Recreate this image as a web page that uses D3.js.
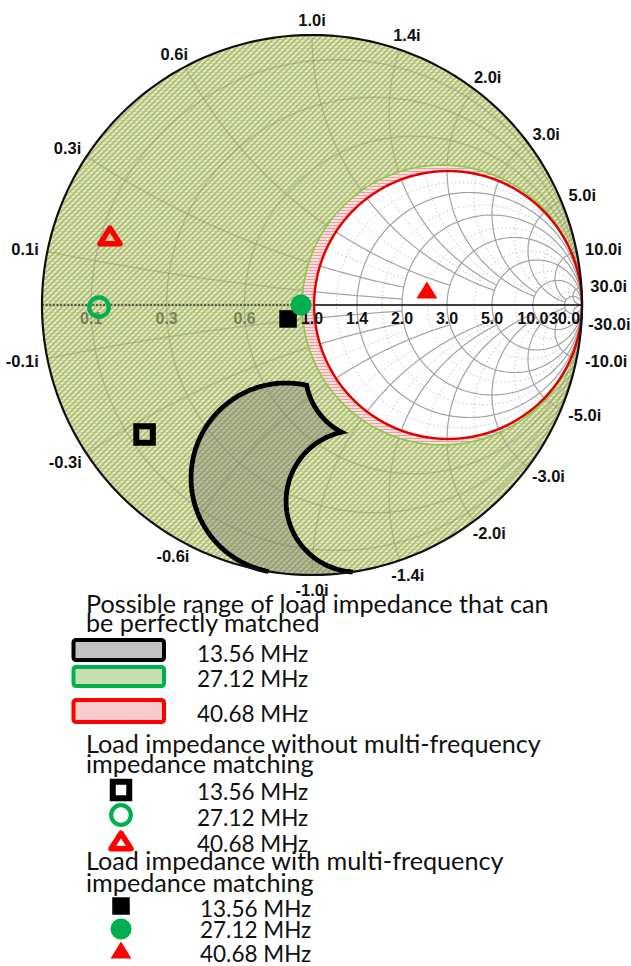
<!DOCTYPE html>
<html>
<head>
<meta charset="utf-8">
<script src="https://cdn.jsdelivr.net/npm/d3@7"></script>
<style>
  html, body { margin: 0; padding: 0; background: #fff; }
  svg { display: block; }
</style>
</head>
<body>
<svg id="chart" width="631" height="966"></svg>
<script>
// ---------- data ----------
// Smith chart grid (normalised resistance / reactance values)
const gridMajor    = [0.1, 0.3, 0.6, 1.0, 1.4, 2.0, 3.0, 5.0, 10.0, 30.0];
const gridMajorEnd = [2, 2, 3, 5, 5, 10, 10, 30, 30, Infinity];
const gridMinor    = [0.2, 0.45, 0.8, 1.2, 1.7, 2.5, 4, 7, 20];
const gridMinorEnd = [1, 2, 2, 5, 5, 10, 10, 30, Infinity];
const realTickLabels = ["0.1", "0.3", "0.6", "1.0", "1.4", "2.0", "3.0", "5.0", "10.0", "30.0"];
const imagTickLabels = ["0.1i", "0.3i", "0.6i", "1.0i", "1.4i", "2.0i", "3.0i", "5.0i", "10.0i", "30.0i"];

const frequencies = ["13.56 MHz", "27.12 MHz", "40.68 MHz"];

// Matchable regions for 27.12 and 40.68 MHz: everything left of a constant-resistance circle
const regionResistance = [0.93, 1.016];          // 27.12 MHz, 40.68 MHz

// Matchable region for 13.56 MHz: bounded by three circles in the reflection plane [cx, cy, radius]
const lobeOuter = [-0.096, -0.641, 0.352];
const lobeInner = [0.166, -0.727, 0.262];
const lobeNotch = [0.224, -0.251, 0.248];

// Normalised load impedances [r, x] at 13.56, 27.12, 40.68 MHz
const loadWithout = [[0.135, -0.336], [0.118, -0.005], [0.120, 0.164]];
const loadWith    = [[0.833, -0.087], [0.922, 0.0], [2.45, 0.334]];

const legendTitles = [
  ["Possible range of load impedance that can", "be perfectly matched"],
  ["Load impedance without multi-frequency", "impedance matching"],
  ["Load impedance with multi-frequency", "impedance matching"]
];

// ---------- setup ----------
const W = 631;
const cx = 312, cy = 305, R = 270;
const sx = d3.scaleLinear().domain([-1, 1]).range([cx - R, cx + R]);
const sy = d3.scaleLinear().domain([-1, 1]).range([cy + R, cy - R]);
const line = d3.line().x(p => sx(p[0])).y(p => sy(p[1]));

const GREEN = "#00b050", RED = "#ff0000";

// reflection coefficient of normalised impedance r + jx
function gamma(r, x) {
  const d = (r + 1) * (r + 1) + x * x;
  return [(r * r + x * x - 1) / d, (2 * x) / d];
}
function rCircle(r, xmax) {
  const t1 = Math.atan(xmax);
  return d3.range(401).map(i => gamma(r, Math.tan(-t1 + 2 * t1 * i / 400)));
}
function xArc(x, rmax) {
  const t1 = Math.atan(rmax);
  return d3.range(301).map(i => gamma(Math.tan(t1 * i / 300), x));
}
function circlePts(c, r, n = 360) {
  return d3.range(n + 1).map(i => {
    const a = 2 * Math.PI * i / n;
    return [c[0] + r * Math.cos(a), c[1] + r * Math.sin(a)];
  });
}
function circleCross(c1, r1, c2, r2) {
  const dx = c2[0] - c1[0], dy = c2[1] - c1[1], d = Math.hypot(dx, dy);
  if (d > r1 + r2 || d < Math.abs(r1 - r2) || d === 0) return [];
  const a = (r1 * r1 - r2 * r2 + d * d) / (2 * d);
  const h = Math.sqrt(Math.max(0, r1 * r1 - a * a));
  const mx = c1[0] + a * dx / d, my = c1[1] + a * dy / d;
  return [[mx + h * dy / d, my - h * dx / d], [mx - h * dy / d, my + h * dx / d]];
}
const leftmost = pts => pts.slice().sort((a, b) => a[0] - b[0])[0];
function edgePoint(c, r) {
  const p = circleCross([0, 0], 1, c, r);
  if (p.length) return leftmost(p);
  const d = Math.hypot(c[0], c[1]);
  return [c[0] + r * c[0] / d, c[1] + r * c[1] / d];
}
function arc(c, r, p0, p1, dir, n = 90) {
  let a0 = Math.atan2(p0[1] - c[1], p0[0] - c[0]);
  let a1 = Math.atan2(p1[1] - c[1], p1[0] - c[0]);
  if (dir > 0) { while (a1 <= a0) a1 += 2 * Math.PI; }
  else { while (a1 >= a0) a1 -= 2 * Math.PI; }
  return d3.range(n + 1).map(i => {
    const a = a0 + (a1 - a0) * i / n;
    return [c[0] + r * Math.cos(a), c[1] + r * Math.sin(a)];
  });
}

const svg = d3.select("#chart");
const defs = svg.append("defs");

const unitPts = circlePts([0, 0], 1);
function rHole(r) { return circlePts([r / (1 + r), 0], 1 / (1 + r)); }
const greenRegionD = line(unitPts) + "Z" + line(rHole(regionResistance[0])) + "Z";
const pinkRegionD = line(unitPts) + "Z" + line(rHole(regionResistance[1])) + "Z";

// hatch fills
const hg = defs.append("pattern").attr("id", "hatchGreen")
  .attr("patternUnits", "userSpaceOnUse").attr("width", 4).attr("height", 4)
  .attr("patternTransform", "rotate(45)");
hg.append("rect").attr("width", 4).attr("height", 4).attr("fill", "rgba(222,236,196,0.5)");
hg.append("rect").attr("width", 2).attr("height", 4).attr("fill", "#a5c96b");

const hp = defs.append("pattern").attr("id", "hatchPink")
  .attr("patternUnits", "userSpaceOnUse").attr("width", 4).attr("height", 3);
hp.append("rect").attr("width", 4).attr("height", 3).attr("fill", "rgba(248,212,212,0.75)");
hp.append("rect").attr("width", 4).attr("height", 1).attr("fill", "#e9a0a0");

// clip to the 27.12 MHz region (grid seen through the hatch)
defs.append("clipPath").attr("id", "greenClip")
  .append("path").attr("d", greenRegionD).attr("clip-rule", "evenodd");

// ---------- grid ----------
function drawGrid(g, minorColor, majorColor) {
  if (minorColor) {
    gridMinor.forEach((v, i) => {
      const e = gridMinorEnd[i];
      [line(rCircle(v, e)), line(xArc(v, e)), line(xArc(-v, e))].forEach(d =>
        g.append("path").attr("d", d).attr("stroke", minorColor)
          .attr("stroke-width", 1).attr("stroke-dasharray", "1.5,2.5"));
    });
  }
  gridMajor.forEach((v, i) => {
    const e = gridMajorEnd[i];
    [line(rCircle(v, Infinity)), line(xArc(v, e)), line(xArc(-v, e))].forEach(d =>
      g.append("path").attr("d", d).attr("stroke", majorColor).attr("stroke-width", 1.2));
  });
}
const gGrid = svg.append("g").attr("fill", "none");
drawGrid(gGrid, "#c4c4c4", "#a2a2a2");
gGrid.append("path").attr("d", line([[-1, 0], [1, 0]]))
  .attr("stroke", "#000").attr("stroke-width", 1.4);

// ---------- matchable regions ----------
// 40.68 MHz
svg.append("path").attr("d", pinkRegionD)
  .attr("fill-rule", "evenodd").attr("fill", "url(#hatchPink)");
svg.append("path").attr("d", line(unitPts))
  .attr("fill", "none").attr("stroke", RED).attr("stroke-width", 1)
  .attr("stroke-dasharray", "2,2");

// 27.12 MHz
svg.append("path").attr("d", greenRegionD)
  .attr("fill-rule", "evenodd").attr("fill", "url(#hatchGreen)");
const gSeen = svg.append("g").attr("fill", "none").attr("clip-path", "url(#greenClip)");
drawGrid(gSeen, null, "rgba(115,115,95,0.3)");
gSeen.append("path").attr("d", line([[-1, 0], [1, 0]]))
  .attr("stroke", "rgba(0,0,0,0.75)").attr("stroke-width", 1.3).attr("stroke-dasharray", "2,1.6");
svg.append("path").attr("d", line(rHole(regionResistance[0])))
  .attr("fill", "none").attr("stroke", "#8cc850").attr("stroke-width", 1.6);
svg.append("path").attr("d", line(rHole(regionResistance[1])))
  .attr("fill", "none").attr("stroke", "#e00000").attr("stroke-width", 2.4);

// resistance labels on the real axis
const gReal = svg.append("g")
  .attr("font-family", "'Liberation Sans', Arial, sans-serif")
  .attr("font-weight", "bold").attr("font-size", 16).attr("text-anchor", "middle");
gridMajor.forEach((v, i) => {
  gReal.append("text").attr("x", sx(gamma(v, 0)[0])).attr("y", sy(0) + 18.5)
    .attr("fill", v < regionResistance[0] ? "rgba(70,72,50,0.6)" : "#111")
    .text(realTickLabels[i]);
});

// 13.56 MHz
{
  const O = [lobeOuter[0], lobeOuter[1]], rO = lobeOuter[2];
  const I = [lobeInner[0], lobeInner[1]], rI = lobeInner[2];
  const N = [lobeNotch[0], lobeNotch[1]], rN = lobeNotch[2];
  const J = leftmost(circleCross(O, rO, N, rN));
  const T = leftmost(circleCross(I, rI, N, rN));
  const oEnd = edgePoint(O, rO);
  const iEnd = edgePoint(I, rI);
  const rim = [].concat(
    arc(I, rI, iEnd, T, -1),
    arc(N, rN, T, J, -1),
    arc(O, rO, J, oEnd, +1)
  );
  const bottom = arc([0, 0], 1, oEnd, iEnd, +1, 30);
  svg.append("path").attr("d", line(rim.concat(bottom)) + "Z")
    .attr("fill", "rgba(110,110,105,0.36)");
  svg.append("path").attr("d", line(rim))
    .attr("fill", "none").attr("stroke", "#000").attr("stroke-width", 4.8)
    .attr("stroke-linejoin", "miter");
}

// chart border
svg.append("path").attr("d", line(unitPts))
  .attr("fill", "none").attr("stroke", "#111").attr("stroke-width", 2.2);

// reactance labels round the rim
const gImag = svg.append("g")
  .attr("font-family", "'Liberation Sans', Arial, sans-serif")
  .attr("font-weight", "bold").attr("font-size", 16.5).attr("fill", "#111")
  .attr("text-anchor", "middle");
function rimLabel(txt, g) {
  const th = Math.atan2(g[1], g[0]);
  const t = gImag.append("text").text(txt);
  const w = t.node().getComputedTextLength();
  const capH = 12, rho = R + 9;
  let px = cx + rho * Math.cos(th) + (w / 2) * Math.cos(th);
  const py = cy - rho * Math.sin(th) - (capH / 2) * Math.sin(th);
  px = Math.min(px, W - w / 2 - 0.5);
  t.attr("x", px).attr("y", py + capH / 2);
}
gridMajor.forEach((v, i) => {
  rimLabel(imagTickLabels[i], gamma(0, v));
  rimLabel("-" + imagTickLabels[i], gamma(0, -v));
});

// ---------- markers ----------
function triPath(w, h) {
  return `M0,${-h / 2}L${w / 2},${h / 2}L${-w / 2},${h / 2}Z`;
}
function drawMarker(g, kind, x, y, filled) {
  if (kind === 0) {
    const s = filled ? 17.5 : 16.5;
    g.append("rect").attr("x", x - s / 2).attr("y", y - s / 2).attr("width", s).attr("height", s)
      .attr("fill", filled ? "#000" : "none").attr("stroke", filled ? "none" : "#000")
      .attr("stroke-width", 6);
  } else if (kind === 1) {
    g.append("circle").attr("cx", x).attr("cy", y).attr("r", filled ? 10.5 : 9.8)
      .attr("fill", filled ? GREEN : "none").attr("stroke", filled ? "none" : GREEN)
      .attr("stroke-width", 4.2);
  } else {
    g.append("path").attr("transform", `translate(${x},${y})`)
      .attr("d", filled ? triPath(21, 17) : triPath(20, 15.5))
      .attr("fill", filled ? RED : "none").attr("stroke", filled ? "none" : RED)
      .attr("stroke-width", 5.5).attr("stroke-linejoin", "round");
  }
}
const gMarks = svg.append("g");
loadWithout.forEach((z, k) => {
  const g = gamma(z[0], z[1]);
  drawMarker(gMarks, k, sx(g[0]), sy(g[1]), false);
});
loadWith.forEach((z, k) => {
  const g = gamma(z[0], z[1]);
  drawMarker(gMarks, k, sx(g[0]), sy(g[1]), true);
});

// ---------- legend ----------
const gLeg = svg.append("g").attr("font-family", "Lato, 'Open Sans', sans-serif").attr("fill", "#111");
const titleY = [[613, 632], [753, 773], [870, 892]];
legendTitles.forEach((lines, k) => {
  lines.forEach((s, j) => {
    gLeg.append("text").attr("x", 86).attr("y", titleY[k][j]).attr("font-size", 25.2).text(s);
  });
});
// region swatches
const swatchY = [640, 667, 700], swatchH = [20, 19, 22];
const swatchFill = ["#c3c3c3", "#c7e0b0", "#f9cccc"], swatchStroke = ["#000", GREEN, RED];
const entryY1 = [661.5, 687, 722];
frequencies.forEach((f, k) => {
  gLeg.append("rect").attr("x", 73.5).attr("y", swatchY[k]).attr("width", 90.5).attr("height", swatchH[k])
    .attr("rx", 2.5).attr("fill", swatchFill[k]).attr("stroke", swatchStroke[k]).attr("stroke-width", 4);
  gLeg.append("text").attr("x", 197).attr("y", entryY1[k]).attr("font-size", 22.5).text(f);
});
// marker entries
const entryY2 = [800, 826, 852], markY2 = [790, 815, 841];
const entryY3 = [917, 938, 962], markY3 = [906, 929, 950];
frequencies.forEach((f, k) => {
  drawMarker(gLeg, k, 121, markY2[k], false);
  gLeg.append("text").attr("x", 197).attr("y", entryY2[k]).attr("font-size", 22.5).text(f);
  drawMarker(gLeg, k, 121, markY3[k], true);
  gLeg.append("text").attr("x", 200).attr("y", entryY3[k]).attr("font-size", 22.5).text(f);
});
</script>
</body>
</html>
